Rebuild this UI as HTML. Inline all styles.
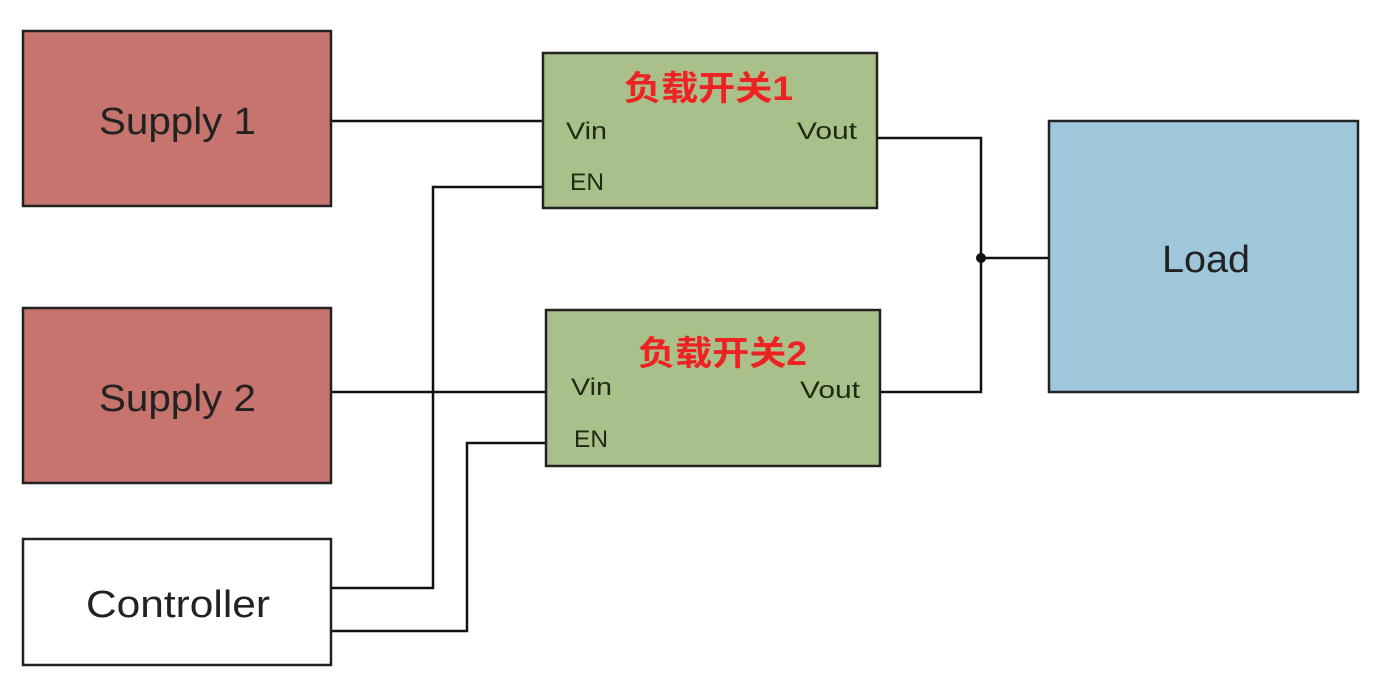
<!DOCTYPE html>
<html><head><meta charset="utf-8"><style>
html,body{margin:0;padding:0;background:#fff;}
svg text{font-family:"Liberation Sans","Noto Sans CJK SC",sans-serif;}
</style></head><body>
<svg width="1382" height="683" viewBox="0 0 1382 683" xmlns="http://www.w3.org/2000/svg">
<g fill="none" stroke="#111" stroke-width="2.5">
<polyline points="331,121 543,121"/>
<polyline points="331,588 433,588 433,187 543,187"/>
<polyline points="331,631 467,631 467,443 546,443"/>
<polyline points="331,392 546,392"/>
<polyline points="877,138 981,138 981,392 880,392"/>
<polyline points="981,258 1049,258"/>
</g>
<circle cx="981" cy="258" r="5" fill="#111"/>
<g stroke="#222" stroke-width="2.5">
<rect x="23" y="31" width="308" height="175" fill="#c7736e"/>
<rect x="23" y="308" width="308" height="175" fill="#c7736e"/>
<rect x="23" y="539" width="308" height="126" fill="#fff"/>
<rect x="543" y="53" width="334" height="155" fill="#a9c08a"/>
<rect x="546" y="310" width="334" height="156" fill="#a9c08a"/>
<rect x="1049" y="121" width="309" height="271" fill="#9fc7dc"/>
</g>
<g fill="#222" font-size="38">
<text x="99" y="134" textLength="157" lengthAdjust="spacingAndGlyphs">Supply 1</text>
<text x="99" y="411" textLength="157" lengthAdjust="spacingAndGlyphs">Supply 2</text>
<text x="86" y="617" textLength="184" lengthAdjust="spacingAndGlyphs">Controller</text>
<text x="1162" y="272" textLength="88" lengthAdjust="spacingAndGlyphs">Load</text>
</g>
<g fill="#1e2a14" font-size="24">
<text x="566" y="139" textLength="41" lengthAdjust="spacingAndGlyphs">Vin</text>
<text x="570" y="190" textLength="34" lengthAdjust="spacingAndGlyphs">EN</text>
<text x="797" y="139" textLength="60" lengthAdjust="spacingAndGlyphs">Vout</text>
<text x="571" y="395" textLength="41" lengthAdjust="spacingAndGlyphs">Vin</text>
<text x="574" y="447" textLength="34" lengthAdjust="spacingAndGlyphs">EN</text>
<text x="800" y="398" textLength="60" lengthAdjust="spacingAndGlyphs">Vout</text>
</g>
<g fill="#ee2222" font-size="34" font-weight="bold">
<text x="624" y="100" textLength="169" lengthAdjust="spacingAndGlyphs">负载开关1</text>
<text x="638" y="365" textLength="169" lengthAdjust="spacingAndGlyphs">负载开关2</text>
</g>
</svg>
</body></html>
